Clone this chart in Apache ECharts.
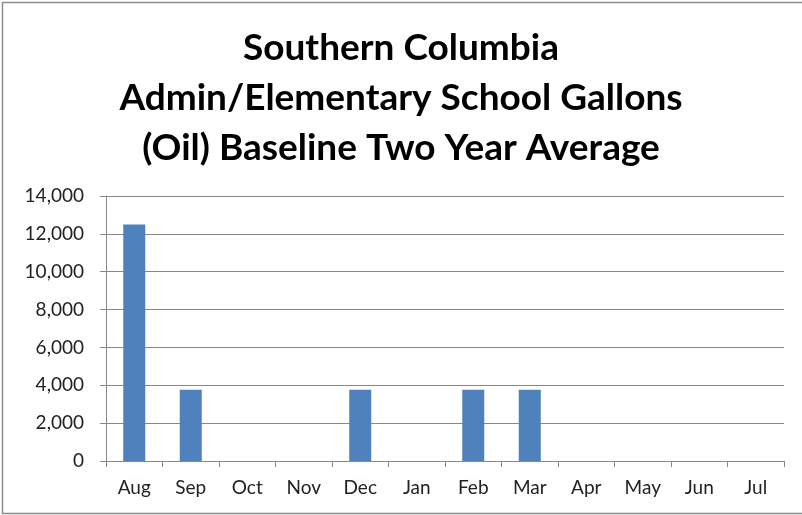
<!DOCTYPE html>
<html>
<head>
<meta charset="utf-8">
<script src="https://cdn.jsdelivr.net/npm/echarts@6/dist/echarts.min.js"></script>
<style>
  html, body { margin: 0; padding: 0; background: #fff; }
  #chart { width: 802px; height: 515px; }
</style>
</head>
<body>
<div id="chart"></div>
<script>
// 月份（类目轴）
const months = ['Aug', 'Sep', 'Oct', 'Nov', 'Dec', 'Jan', 'Feb', 'Mar', 'Apr', 'May', 'Jun', 'Jul']
// 两年平均加仑数
const gallons = [12500, 3770, 0, 0, 3770, 0, 3770, 3770, 0, 0, 0, 0]
const titleLines = ['Southern Columbia', 'Admin/Elementary School Gallons', '(Oil) Baseline Two Year Average']

const chart = echarts.init(document.getElementById('chart'))
const font = 'Lato, "Open Sans", sans-serif'
const option = {
  animation: false,
  title: {
    text: titleLines.join('\n'),
    left: 'center',
    top: 18,
    textStyle: {
      fontFamily: font,
      fontSize: 37,
      fontWeight: 'bold',
      lineHeight: 50,
      color: '#000'
    }
  },
  graphic: [{
    type: 'rect',
    shape: { x: 2.5, y: 2.5, width: 820, height: 511 },
    style: { fill: 'none', stroke: '#8c8c8c', lineWidth: 1.5 },
    silent: true
  }],
  grid: {
    left: 106,
    right: 18,
    top: 196,
    bottom: 54
  },
  xAxis: {
    type: 'category',
    data: months,
    axisLine: { lineStyle: { color: '#888', width: 1 } },
    axisTick: { show: true, length: 6, lineStyle: { color: '#888' } },
    axisLabel: { color: '#222', fontFamily: font, fontSize: 19, margin: 17 }
  },
  yAxis: {
    type: 'value',
    min: 0,
    max: 14000,
    interval: 2000,
    axisLine: { show: true, lineStyle: { color: '#888', width: 1 } },
    axisTick: { show: true, length: 6, lineStyle: { color: '#888' } },
    splitLine: { lineStyle: { color: '#888', width: 1 } },
    axisLabel: {
      color: '#222',
      fontFamily: font,
      fontSize: 19,
      margin: 22,
      formatter: v => v.toLocaleString('en-US')
    }
  },
  series: [{
    type: 'bar',
    data: gallons,
    barWidth: 22,
    itemStyle: { color: '#4f81bd' }
  }]
}
chart.setOption(option)
</script>
</body>
</html>
